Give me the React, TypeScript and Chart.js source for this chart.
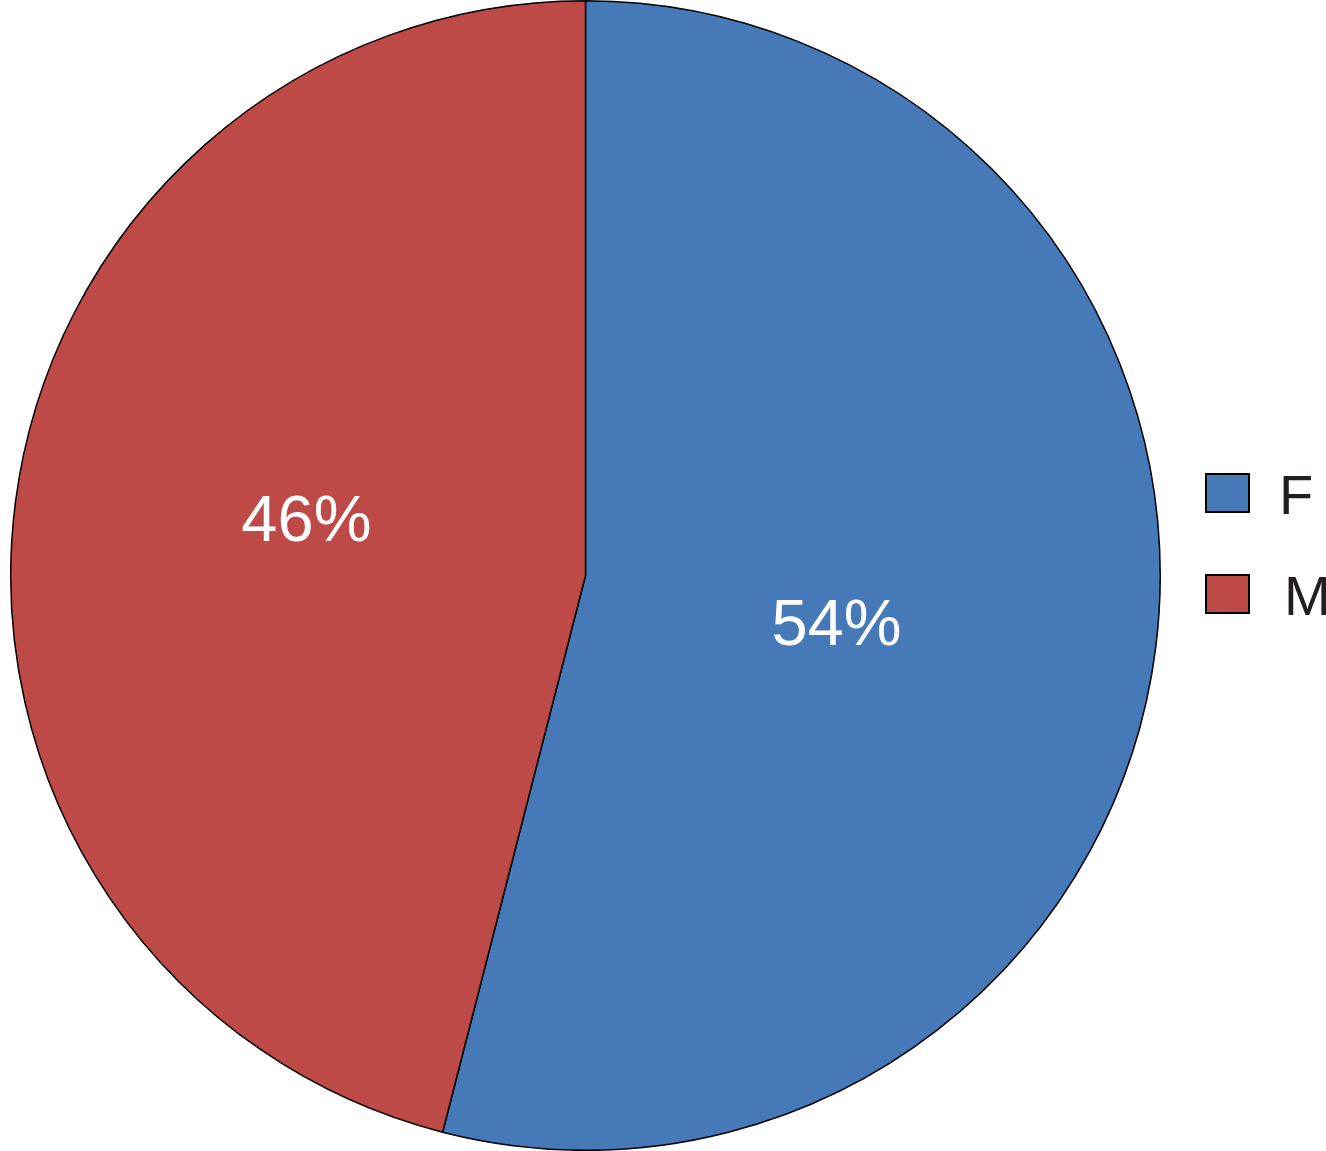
import React, { useEffect, useRef } from "react";
import { Chart, registerables } from "chart.js";

Chart.register(...registerables);

const categories = ["F", "M"];
const values = [54, 46];
const colors = ["#4579B8", "#BE4A47"];

const FONT = "'Liberation Sans', Arial, Helvetica, sans-serif";

const labelPlugin = {
  id: "sliceLabels",
  afterDatasetsDraw(chart: any) {
    const ctx = chart.ctx;
    const meta = chart.getDatasetMeta(0);
    const total = values.reduce((a, b) => a + b, 0);
    ctx.save();
    ctx.fillStyle = "#ffffff";
    ctx.font = `65px ${FONT}`;
    ctx.textAlign = "center";
    ctx.textBaseline = "middle";
    meta.data.forEach((arc: any, i: number) => {
      const p = arc.getProps(["x", "y", "startAngle", "endAngle", "outerRadius"], true);
      const mid = (p.startAngle + p.endAngle) / 2 + 0.068;
      const r = p.outerRadius * 0.47;
      const x = p.x + Math.cos(mid) * r - 14;
      const y = p.y + Math.sin(mid) * r;
      ctx.fillText(Math.round((values[i] / total) * 100) + "%", x, y);
    });
    ctx.restore();
  },
};

const legendPlugin = {
  id: "customLegend",
  afterDraw(chart: any) {
    const ctx = chart.ctx;
    ctx.save();
    const x0 = 1206;
    const y0 = 474;
    const gap = 101;
    categories.forEach((c, i) => {
      const y = y0 + i * gap;
      ctx.fillStyle = colors[i];
      ctx.fillRect(x0, y, 43, 38);
      ctx.strokeStyle = "#000";
      ctx.lineWidth = 2;
      ctx.strokeRect(x0, y, 43, 38);
      ctx.fillStyle = "#231f20";
      ctx.font = `56px ${FONT}`;
      ctx.textAlign = "left";
      ctx.textBaseline = "alphabetic";
      ctx.fillText(c, 1279 + i * 5, y + 40);
    });
    ctx.restore();
  },
};

export default function App() {
  const ref = useRef<HTMLCanvasElement | null>(null);
  useEffect(() => {
    document.body.style.margin = "0";
    const chart = new Chart(ref.current!, {
      type: "pie",
      data: {
        labels: categories,
        datasets: [
          {
            data: values,
            backgroundColor: colors,
            borderColor: "#000",
            borderWidth: 1.5,
          },
        ],
      },
      options: {
        animation: false,
        responsive: false,
        layout: { padding: { left: 7, right: 162, top: -3, bottom: -3 } },
        plugins: {
          legend: { display: false },
          tooltip: { enabled: false },
        },
      },
      plugins: [labelPlugin, legendPlugin],
    });
    return () => chart.destroy();
  }, []);
  return (
    <div style={{ position: "absolute", left: 0, top: 0, width: 1326, height: 1151, background: "#fff" }}>
      <canvas ref={ref} width={1326} height={1151} />
    </div>
  );
}
